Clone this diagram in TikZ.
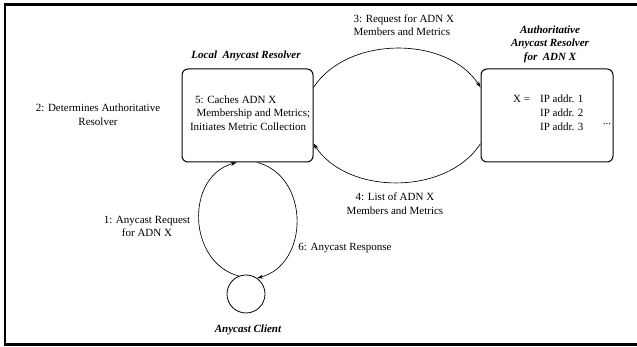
\documentclass[tikz,border=0pt]{standalone}
\usepackage{fontspec}
\setmainfont{Liberation Serif}
\usetikzlibrary{arrows.meta}

\begin{document}
\begin{tikzpicture}[x=1pt,y=1pt,
  resolver/.style={draw, line width=1pt, rounded corners=6pt,
    minimum width=131pt, minimum height=93pt, inner sep=0pt},
  boxtitle/.style={font=\fontsize{11}{13.5}\selectfont\bfseries\itshape, align=center},
  msg/.style={font=\fontsize{11}{13.5}\selectfont},
  flow/.style={line width=0.65pt, -{Stealth[length=6pt,width=4pt]}}]

\useasboundingbox (0,0) rectangle (637,347);

% Frame (right side falls outside the page)
\draw[line width=2.5pt] (5,2.5) rectangle (645,342.5);

% Resolvers and client
\node[resolver] (local) at (247.5,231.5) {};
\node[resolver, minimum width=132pt] (auth) at (547,231.5) {};
\node[draw, circle, line width=0.8pt, minimum size=38pt, inner sep=0pt] (client) at (246,53) {};

% Names
\node[boxtitle] (localname) at (246,291) {Local\ \ Anycast Resolver};
\node[boxtitle] (authname) at (550,303) {Authoritative\\Anycast Resolver\\for\ \ ADN X};
\node[boxtitle] (clientname) at (248,17) {Anycast Client};

% Box contents
\node[msg, align=left, anchor=west] (cache) at (186.5,234)
  {\hspace*{5pt}5: Caches ADN X\\\hspace*{6.5pt}Membership and Metrics;\\Initiates Metric Collection};
\node[msg, anchor=west, inner sep=0pt] (members) at (513,233)
  {\renewcommand\arraystretch{1.04}%
   \begin{tabular}{@{}l@{\hspace{10pt}}l@{}}X = & IP addr. 1\\ & IP addr. 2\\ & IP addr. 3\end{tabular}};
\node[msg] (dots) at (607,223) {...};

% Message labels
\node[msg, align=left, anchor=west] (req) at (350,322) {3: Request for ADN X\\Members and Metrics};
\node[msg, align=center] (list) at (395,143.5) {4: List of ADN X\\Members and Metrics};
\node[msg, align=center] (determ) at (98,232.5) {2: Determines Authoritative\\Resolver};
\node[msg, align=center] (query) at (147,120.5) {1: Anycast Request\\for ADN X};
\node[msg] (resp) at (345,98.5) {6: Anycast Response};

% Message flows
\draw[flow] (client.112) to[out=165, in=-165, looseness=1.2] (local.257);
\draw[flow] (local.282) to[out=-15, in=15, looseness=1.2] (client.55);
\draw[flow] (local.23) to[out=57, in=123, looseness=0.95] (auth.157);
\draw[flow] (auth.203) to[out=-123, in=-57, looseness=0.95] (local.-23);

\end{tikzpicture}
\end{document}
